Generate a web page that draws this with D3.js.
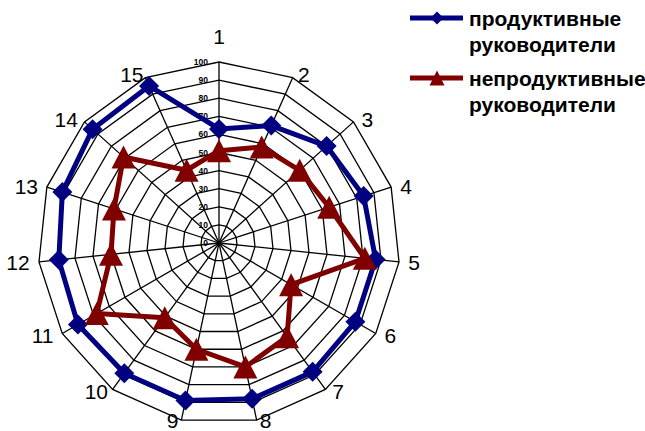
<!DOCTYPE html>
<html>
<head>
<meta charset="utf-8">
<script src="https://cdn.jsdelivr.net/npm/d3@7"></script>
<style>
  html, body { margin: 0; padding: 0; background: #fff; }
  svg { display: block; font-family: "Liberation Sans", Arial, sans-serif; }
</style>
</head>
<body>
<svg id="chart" width="645" height="431"></svg>
<script>
// Axis categories (1..15) and ring tick values
const categories = ["1","2","3","4","5","6","7","8","9","10","11","12","13","14","15"];
const ringTicks = [0, 10, 20, 30, 40, 50, 60, 70, 80, 90, 100];

// Series values, one per axis
const productive   = [63, 71, 80, 84, 87, 87, 88, 88, 89, 89, 90, 89, 91, 94, 95];
const unproductive = [51, 58, 60, 64, 81, 46, 64, 70, 60, 51, 78, 60, 61, 71, 44];

const seriesNames = [
  ["продуктивные", "руководители"],
  ["непродуктивные", "руководители"]
];

const width = 645, height = 431;
const svg = d3.select("#chart");
const cx = 219, cy = 243, R = 181;
const catFont = 21;

const angle = d3.scalePoint().domain(categories).range([0, 2 * Math.PI * (categories.length - 1) / categories.length]);
const radius = d3.scaleLinear().domain([0, 100]).range([0, R]);

const pt = (cat, v) => {
  const a = angle(cat);
  return [cx + radius(v) * Math.sin(a), cy - radius(v) * Math.cos(a)];
};

const g = svg.append("g");

// Polygonal grid rings
const ringLine = d3.line().curve(d3.curveLinearClosed);
g.selectAll("path.ring")
  .data(ringTicks.filter(t => t > 0))
  .join("path")
  .attr("class", "ring")
  .attr("d", t => ringLine(categories.map(c => pt(c, t))))
  .attr("fill", "none")
  .attr("stroke", "#000")
  .attr("stroke-width", 1.3);

// Spokes
g.selectAll("line.spoke")
  .data(categories)
  .join("line")
  .attr("class", "spoke")
  .attr("x1", cx).attr("y1", cy)
  .attr("x2", c => pt(c, 100)[0])
  .attr("y2", c => pt(c, 100)[1])
  .attr("stroke", "#000")
  .attr("stroke-width", 1.3);

// Ring value labels along the first spoke
g.selectAll("text.tick")
  .data(ringTicks)
  .join("text")
  .attr("class", "tick")
  .attr("x", cx - 11)
  .attr("y", t => cy - radius(t))
  .attr("text-anchor", "end")
  .attr("dominant-baseline", "central")
  .attr("font-size", 8.5)
  .attr("font-weight", "bold")
  .attr("fill", "#000")
  .text(t => t);

// Category labels around the outside; wider labels are pushed further out sideways,
// and labels are kept inside the bottom edge of the frame
const labelX = c => {
  const a = angle(c), s = Math.sin(a), co = Math.cos(a);
  return cx + 196 * s + Math.sign(s) * 6 * co * co + s * (c.length - 1) * 6;
};
const labelY = (c, i) =>
  Math.min(cy - (i === 0 ? 207 : 184) * Math.cos(angle(c)), height - catFont / 2);

g.selectAll("text.cat")
  .data(categories)
  .join("text")
  .attr("class", "cat")
  .attr("x", labelX)
  .attr("y", labelY)
  .attr("text-anchor", "middle")
  .attr("dominant-baseline", "central")
  .attr("font-size", catFont)
  .attr("fill", "#000")
  .text(c => c);

const diamond = s => `M0,${-s}L${s},0L0,${s}L${-s},0Z`;
const triangle = (w, h) => `M0,${-h / 2}L${w / 2},${h / 2}L${-w / 2},${h / 2}Z`;

const series = [
  { values: productive,   color: "#000080", marker: diamond(10) },
  { values: unproductive, color: "#800000", marker: triangle(24, 23) }
];

series.forEach(s => {
  const pts = categories.map((c, i) => pt(c, s.values[i]));
  g.append("path")
    .attr("d", ringLine(pts))
    .attr("fill", "none")
    .attr("stroke", s.color)
    .attr("stroke-width", 5)
    .attr("stroke-linejoin", "round");
  g.selectAll(null)
    .data(pts)
    .join("path")
    .attr("transform", p => `translate(${p[0]},${p[1]})`)
    .attr("d", s.marker)
    .attr("fill", s.color);
});

// Legend
const legendMarkers = [diamond(6.5), triangle(15, 15)];
const legendY = [18, 78];
series.forEach((s, k) => {
  const lg = svg.append("g").attr("transform", `translate(0,${legendY[k]})`);
  lg.append("line")
    .attr("x1", 410).attr("x2", 463)
    .attr("y1", 0).attr("y2", 0)
    .attr("stroke", s.color).attr("stroke-width", 5);
  lg.append("path")
    .attr("transform", "translate(437,0)")
    .attr("d", legendMarkers[k])
    .attr("fill", s.color);
  lg.selectAll("text")
    .data(seriesNames[k])
    .join("text")
    .attr("x", 469)
    .attr("y", (d, j) => 8 + j * 25.5)
    .attr("font-size", 21)
    .attr("font-weight", "bold")
    .attr("fill", "#000")
    .text(d => d);
});
</script>
</body>
</html>
